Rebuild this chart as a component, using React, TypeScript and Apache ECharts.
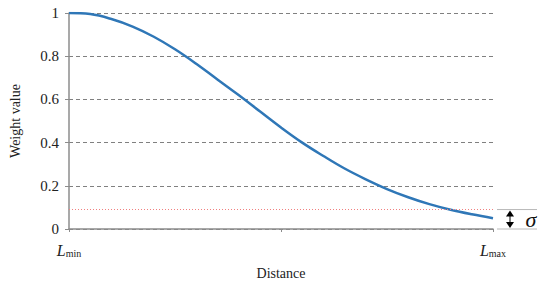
import React, { useEffect, useRef } from "react";
import * as echarts from "echarts";

const distance = [0, 0.05, 0.1, 0.15, 0.2, 0.25, 0.3, 0.35, 0.4, 0.45, 0.5, 0.55, 0.6, 0.65, 0.7, 0.75, 0.8, 0.85, 0.9, 0.95, 1];
const weight = [1.0, 0.995, 0.972, 0.937, 0.89, 0.832, 0.765, 0.692, 0.62, 0.545, 0.47, 0.4, 0.338, 0.28, 0.23, 0.185, 0.147, 0.115, 0.089, 0.068, 0.05];
const sigma = 0.09;
const yTicks = [0, 0.2, 0.4, 0.6, 0.8, 1];

const serif = "'Liberation Serif', 'DejaVu Serif', serif";

export default function App() {
  const ref = useRef<HTMLDivElement>(null);
  useEffect(() => {
    const chart = echarts.init(ref.current!, undefined, { renderer: "svg" });
    const option: any = {
      animation: false,
      textStyle: { fontFamily: serif },
      grid: { left: 65, right: 57, top: 13, bottom: 60, containLabel: false },
      xAxis: {
        type: "value",
        min: 0,
        max: 1,
        interval: 0.5,
        name: "Distance",
        nameLocation: "middle",
        nameGap: 37,
        nameTextStyle: { fontFamily: serif, fontSize: 14, color: "#222" },
        axisLine: { show: true, lineStyle: { color: "#8c8c8c", width: 1.5 } },
        axisTick: { show: true, length: 3, lineStyle: { color: "#8c8c8c" } },
        splitLine: { show: false },
        axisLabel: {
          margin: 13,
          formatter: (v: number) => (v === 0 ? "{L|L}{s|min}" : v === 1 ? "{L|L}{s|max}" : ""),
          rich: {
            L: { fontFamily: serif, fontStyle: "italic", fontSize: 16, color: "#222", lineHeight: 16, verticalAlign: "top" },
            s: { fontFamily: serif, fontSize: 10, color: "#222", lineHeight: 10, verticalAlign: "bottom" },
          },
        },
      },
      yAxis: {
        type: "value",
        min: 0,
        max: 1,
        interval: 0.2,
        name: "Weight value",
        nameLocation: "middle",
        nameGap: 47,
        nameTextStyle: { fontFamily: serif, fontSize: 14, color: "#222" },
        axisLine: { show: true, lineStyle: { color: "#8c8c8c", width: 1.5 } },
        axisTick: { show: true, length: 4, lineStyle: { color: "#8c8c8c" } },
        axisLabel: {
          margin: 10,
          fontFamily: serif,
          fontSize: 15,
          color: "#222",
          formatter: (v: number) => {
            const t = yTicks.find((x) => Math.abs(x - v) < 1e-9);
            return t === undefined ? "" : String(Math.round(t * 10) / 10);
          },
        },
        splitLine: { show: true, lineStyle: { color: "#808080", type: [4, 3], width: 1.2 } },
      },
      series: [
        {
          type: "line",
          data: distance.map((d, i) => [d, weight[i]]),
          smooth: 0.4,
          showSymbol: false,
          lineStyle: { color: "#2f77b7", width: 2.5 },
          markLine: {
            silent: true,
            symbol: "none",
            label: { show: false },
            lineStyle: { color: "#f08080", type: [1, 2], width: 1 },
            data: [{ yAxis: sigma }],
          },
        },
      ],
    };
    chart.setOption(option);
    const yTop = chart.convertToPixel({ gridIndex: 0 }, [1, sigma]) as number[];
    const yBot = chart.convertToPixel({ gridIndex: 0 }, [1, 0]) as number[];
    const x0 = yTop[0] + 4;
    const x1 = x0 + 40;
    const ax = x0 + 13;
    const t = yTop[1];
    const b = yBot[1];
    chart.setOption({
      graphic: [
        { type: "line", shape: { x1: x0, y1: t, x2: x1, y2: t }, style: { stroke: "#b8b8b8", lineWidth: 1 } },
        { type: "line", shape: { x1: x0, y1: b, x2: x1, y2: b }, style: { stroke: "#b8b8b8", lineWidth: 1 } },
        { type: "line", shape: { x1: ax, y1: t + 5, x2: ax, y2: b - 5 }, style: { stroke: "#000", lineWidth: 1 } },
        { type: "polygon", shape: { points: [[ax, t + 1], [ax - 4, t + 7], [ax + 4, t + 7]] }, style: { fill: "#000" } },
        { type: "polygon", shape: { points: [[ax, b - 1], [ax - 4, b - 7], [ax + 4, b - 7]] }, style: { fill: "#000" } },
        {
          type: "text",
          x: ax + 21,
          y: (t + b) / 2,
          style: { text: "σ", fontFamily: serif, fontStyle: "italic", fontSize: 22, fill: "#111", align: "center", verticalAlign: "middle" },
        },
      ],
    });
    return () => chart.dispose();
  }, []);
  return <div ref={ref} style={{ position: "absolute", left: 0, top: 0, width: 550, height: 289 }} />;
}
